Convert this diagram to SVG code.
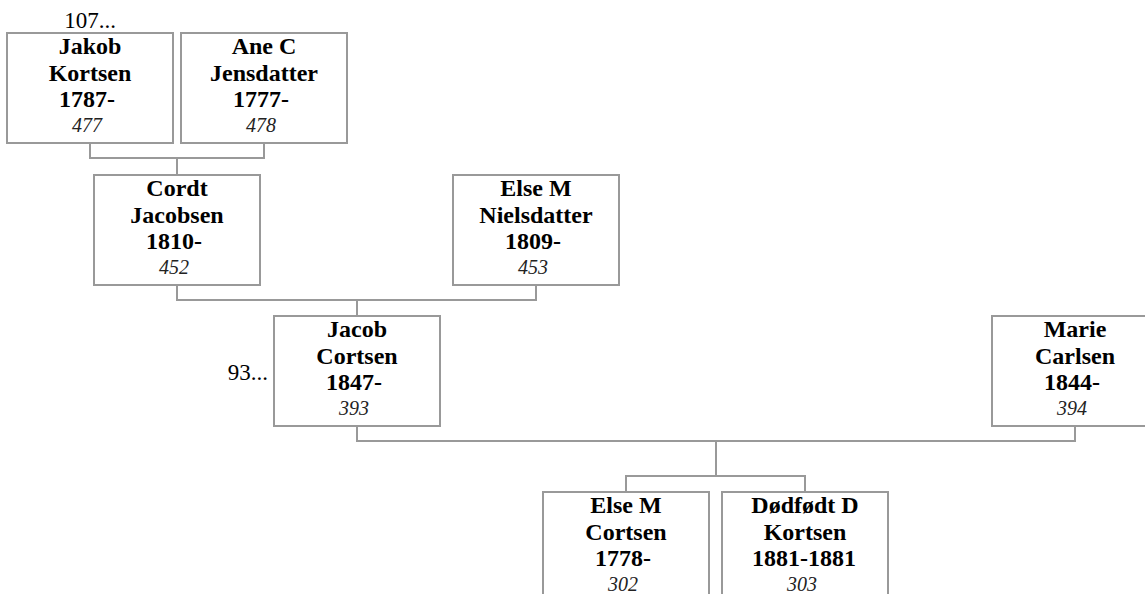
<svg xmlns="http://www.w3.org/2000/svg" width="1145" height="594" viewBox="0 0 1145 594">
<style>
.box{fill:#fff;stroke:#999;stroke-width:2}
.con{fill:none;stroke:#999;stroke-width:2}
.n{font-family:"Liberation Serif","Times New Roman",serif;font-weight:bold;font-size:24px;text-anchor:middle;fill:#000}
.id{font-family:"Liberation Serif","Times New Roman",serif;font-style:italic;font-size:20px;text-anchor:middle;fill:#222}
.more{font-family:"Liberation Serif","Times New Roman",serif;font-size:23px;fill:#000}
</style>
<rect width="1145" height="594" fill="#fff"/>
<g id="connectors">
<path class="con" d="M90,143V158H264V143M177,158V175"/>
<path class="con" d="M177,285V300H536V285M357,300V316"/>
<path class="con" d="M357,426V441H1075V426M716,441V476M626,492V476H805V492"/>
</g>
<text class="more" x="90" y="28" text-anchor="middle">107...</text>
<text class="more" x="268" y="380" text-anchor="end">93...</text>
<g id="p477">
<rect class="box" x="7" y="33" width="166" height="110"/>
<text class="n" x="90" y="54">Jakob</text>
<text class="n" x="90" y="81">Kortsen</text>
<text class="n" x="87" y="107">1787-</text>
<text class="id" x="87" y="132">477</text>
</g>
<g id="p478">
<rect class="box" x="181" y="33" width="166" height="110"/>
<text class="n" x="264" y="54">Ane C</text>
<text class="n" x="264" y="81">Jensdatter</text>
<text class="n" x="261" y="107">1777-</text>
<text class="id" x="261" y="132">478</text>
</g>
<g id="p452">
<rect class="box" x="94" y="175" width="166" height="110"/>
<text class="n" x="177" y="196">Cordt</text>
<text class="n" x="177" y="223">Jacobsen</text>
<text class="n" x="174" y="249">1810-</text>
<text class="id" x="174" y="274">452</text>
</g>
<g id="p453">
<rect class="box" x="453" y="175" width="166" height="110"/>
<text class="n" x="536" y="196">Else M</text>
<text class="n" x="536" y="223">Nielsdatter</text>
<text class="n" x="533" y="249">1809-</text>
<text class="id" x="533" y="274">453</text>
</g>
<g id="p393">
<rect class="box" x="274" y="316" width="166" height="110"/>
<text class="n" x="357" y="337">Jacob</text>
<text class="n" x="357" y="364">Cortsen</text>
<text class="n" x="354" y="390">1847-</text>
<text class="id" x="354" y="415">393</text>
</g>
<g id="p394">
<rect class="box" x="992" y="316" width="166" height="110"/>
<text class="n" x="1075" y="337">Marie</text>
<text class="n" x="1075" y="364">Carlsen</text>
<text class="n" x="1072" y="390">1844-</text>
<text class="id" x="1072" y="415">394</text>
</g>
<g id="p302">
<rect class="box" x="543" y="492" width="166" height="110"/>
<text class="n" x="626" y="513">Else M</text>
<text class="n" x="626" y="540">Cortsen</text>
<text class="n" x="623" y="566">1778-</text>
<text class="id" x="623" y="591">302</text>
</g>
<g id="p303">
<rect class="box" x="722" y="492" width="166" height="110"/>
<text class="n" x="805" y="513">Dødfødt D</text>
<text class="n" x="805" y="540">Kortsen</text>
<text class="n" x="804" y="566">1881-1881</text>
<text class="id" x="802" y="591">303</text>
</g>
</svg>
